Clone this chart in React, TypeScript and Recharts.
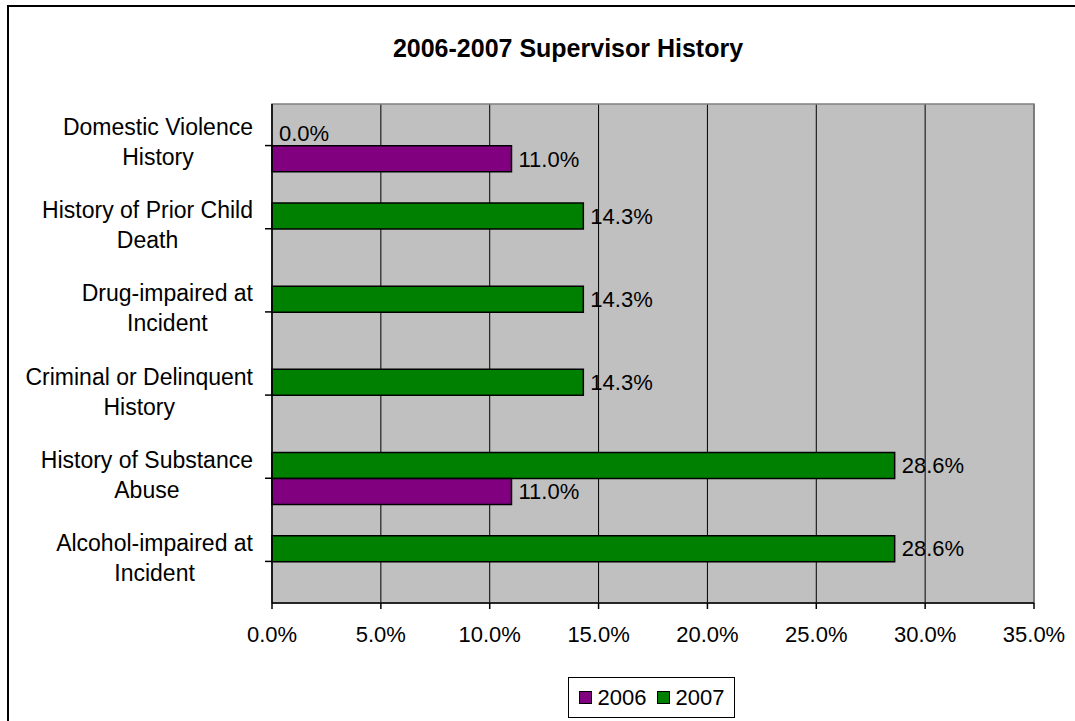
import React from 'react';
import { BarChart, Bar, XAxis, YAxis, CartesianGrid, LabelList, Legend, ReferenceArea, Cell } from 'recharts';

const categories = [
  'Domestic Violence\nHistory',
  'History of Prior Child\nDeath',
  'Drug-impaired at\nIncident',
  'Criminal or Delinquent\nHistory',
  'History of Substance\nAbuse',
  'Alcohol-impaired at\nIncident',
];
const values2006: (number | null)[] = [11.0, null, null, null, 11.0, null];
const values2007: (number | null)[] = [0.0, 14.3, 14.3, 14.3, 28.6, 28.6];
const xTicks = [0, 5, 10, 15, 20, 25, 30, 35];
const seriesNames = ['2006', '2007'];
const seriesColors = ['#800080', '#008000'];
const title = '2006-2007 Supervisor History';

const data = categories.map((name, i) => ({ name, s2006: values2006[i], s2007: values2007[i] }));

const FONT = '"Liberation Sans", Arial, Helvetica, sans-serif';

let ctx: CanvasRenderingContext2D | null = null;
function measure(text: string, size: number): number {
  if (!ctx) ctx = document.createElement('canvas').getContext('2d');
  if (!ctx) return text.length * size * 0.5;
  ctx.font = `${size}px "Liberation Sans", Arial, sans-serif`;
  return ctx.measureText(text).width;
}

const CategoryTick = (props: any) => {
  const { x, y, payload } = props;
  const lines = String(payload.value).split('\n');
  const maxW = Math.max(...lines.map((l) => measure(l, 23)));
  const cx = x - maxW / 2;
  return (
    <g>
      {lines.map((l, i) => (
        <text key={i} x={cx} y={y - 10.5 + i * 30} textAnchor="middle" fontSize={23} fontFamily={FONT} fill="#000">
          {l}
        </text>
      ))}
    </g>
  );
};

const fmt = (v: any) => (v === null || v === undefined ? '' : `${Number(v).toFixed(1)}%`);

const LegendContent = () => (
  <div
    style={{
      boxSizing: 'border-box',
      width: 167,
      height: 41,
      border: '1px solid #000',
      background: '#fff',
      display: 'flex',
      alignItems: 'center',
      justifyContent: 'center',
      fontFamily: FONT,
      fontSize: 22,
      color: '#000',
    }}
  >
    {seriesNames.map((n, i) => (
      <span key={n} style={{ display: 'flex', alignItems: 'center', marginRight: i === 0 ? 10 : 0 }}>
        <span
          style={{
            display: 'inline-block',
            width: 13,
            height: 13,
            boxSizing: 'border-box',
            background: seriesColors[i],
            border: '1px solid #000',
            marginRight: 6,
          }}
        />
        {n}
      </span>
    ))}
  </div>
);

const zeroMin = (v: any) => (v === 0 ? 0.01 : 0);

export default function App() {
  return (
    <div style={{ position: 'absolute', left: 0, top: 0, width: 1075, height: 721, overflow: 'hidden', background: '#fff' }}>
      <div
        style={{
          position: 'absolute',
          left: 7,
          top: 5,
          width: 1200,
          height: 900,
          border: '2px solid #000',
          boxSizing: 'border-box',
        }}
      />
      <svg style={{ position: 'absolute', left: 0, top: 0 }} width={1075} height={100}>
        <text x={568} y={57} textAnchor="middle" fontFamily={FONT} fontWeight="bold" fontSize={25} fill="#000">
          {title}
        </text>
      </svg>
      <div style={{ position: 'absolute', left: 0, top: 0 }}>
        <BarChart
          width={1075}
          height={721}
          data={data}
          layout="vertical"
          margin={{ top: 104, right: 41, left: 0, bottom: 37 }}
          barCategoryGap="19%"
          barGap={0}
        >
          <CartesianGrid horizontal={false} vertical={true} stroke="#000" strokeOpacity={1} fill="#C0C0C0" fillOpacity={1} />
          <ReferenceArea x1={0} x2={35} fill="none" stroke="#808080" strokeWidth={1.5} ifOverflow="visible" />
          <XAxis
            type="number"
            domain={[0, 35]}
            ticks={xTicks}
            tickFormatter={(v: number) => `${v.toFixed(1)}%`}
            axisLine={{ stroke: '#000', strokeWidth: 1.5 }}
            tickLine={{ stroke: '#000', strokeWidth: 1.5 }}
            tickSize={6}
            tickMargin={17}
            tick={{ fontSize: 22, fontFamily: FONT, fill: '#000' }}
            height={40}
            interval={0}
          />
          <YAxis
            type="category"
            dataKey="name"
            width={272}
            axisLine={{ stroke: '#000', strokeWidth: 1.5 }}
            tickLine={{ stroke: '#000', strokeWidth: 1.5 }}
            tickSize={7}
            tickMargin={12}
            tick={<CategoryTick />}
            interval={0}
          />
          <Legend
            verticalAlign="bottom"
            content={<LegendContent />}
            wrapperStyle={{ position: 'absolute', left: 568, bottom: 3, width: 167, height: 41 }}
          />
          <Bar
            dataKey="s2007"
            name={seriesNames[1]}
            fill={seriesColors[1]}
            stroke="#000"
            strokeWidth={1.5}
            minPointSize={zeroMin}
            isAnimationActive={false}
          >
            {values2007.map((v, i) => (
              <Cell key={i} stroke={v === 0 ? 'none' : '#000'} fill={v === 0 ? 'none' : seriesColors[1]} />
            ))}
            <LabelList dataKey="s2007" position="right" offset={7} formatter={fmt} fontSize={22} fontFamily={FONT} fill="#000" />
          </Bar>
          <Bar dataKey="s2006" name={seriesNames[0]} fill={seriesColors[0]} stroke="#000" strokeWidth={1.5} isAnimationActive={false}>
            <LabelList dataKey="s2006" position="right" offset={7} formatter={fmt} fontSize={22} fontFamily={FONT} fill="#000" />
          </Bar>
        </BarChart>
      </div>
    </div>
  );
}
